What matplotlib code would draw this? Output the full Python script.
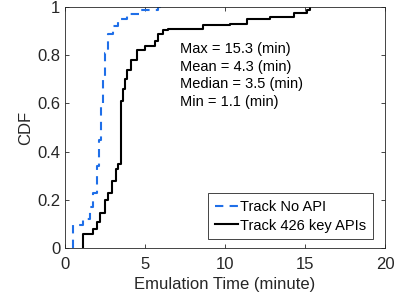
import matplotlib
matplotlib.use('Agg')
import matplotlib.pyplot as plt
from matplotlib.ticker import FuncFormatter

plt.rcParams['font.family'] = ['Liberation Sans', 'DejaVu Sans']

# CDF step points (time in minutes, cumulative fraction)
noapi_t = [0.52, 0.52, 1.15, 1.56, 1.77, 1.98, 2.15, 2.23, 2.35, 2.5, 2.7, 3.0, 3.33, 3.85, 4.7, 5.8, 6.0]
noapi_p = [0.0, 0.095, 0.12, 0.17, 0.23, 0.34, 0.45, 0.59, 0.71, 0.81, 0.89, 0.92, 0.95, 0.97, 0.99, 1.0, 1.0]

keyapi_t = [1.1, 1.1, 1.77, 1.98, 2.19, 2.5, 2.7, 2.92, 3.19, 3.33, 3.48, 3.5, 3.6, 3.75, 3.9, 4.1,
            4.5, 5.0, 5.6, 5.83, 6.1, 6.45, 8.6, 10.3, 11.35, 12.8, 14.3, 15.1, 15.3]
keyapi_p = [0.0, 0.06, 0.08, 0.11, 0.145, 0.2, 0.23, 0.28, 0.33, 0.35, 0.61, 0.61, 0.66, 0.70, 0.74, 0.78,
            0.82, 0.84, 0.86, 0.89, 0.905, 0.91, 0.925, 0.93, 0.95, 0.96, 0.975, 0.99, 1.0]

stats = ['Max = 15.3 (min)', 'Mean = 4.3 (min)', 'Median = 3.5 (min)', 'Min = 1.1 (min)']

axcol = '#262626'

fig = plt.figure(figsize=(3.99, 2.96), dpi=100)
ax = fig.add_axes([0.163, 0.162, 0.802, 0.814])

ax.plot(noapi_t, noapi_p, linestyle=(0, (4, 3)), color='#1f6fe8', lw=1.5,
        drawstyle='steps-post', label='Track No API')
ax.plot(keyapi_t, keyapi_p, '-', color='black', lw=1.5, drawstyle='steps-post',
        label='Track 426 key APIs')

ax.set_xlim(0, 20)
ax.set_ylim(0, 1)
ax.set_xticks([0, 5, 10, 15, 20])
ax.set_yticks([0, 0.2, 0.4, 0.6, 0.8, 1])
ax.yaxis.set_major_formatter(FuncFormatter(lambda v, p: '%g' % v))
ax.tick_params(direction='in', top=True, right=True, length=3, labelsize=12, width=0.6,
               colors=axcol)
ax.tick_params(axis='x', pad=6.5)
ax.tick_params(axis='y', pad=3.5)
for s in ax.spines.values():
    s.set_linewidth(0.6)
    s.set_color(axcol)

ax.set_xlabel('Emulation Time (minute)', fontsize=12, labelpad=3.5, color=axcol)
ax.set_ylabel('CDF', fontsize=12, labelpad=2.5, color=axcol)

ax.text(7.2, 0.855, '\n'.join(stats), fontsize=10.5, va='top', ha='left', linespacing=1.32)

leg = ax.legend(loc='lower right', bbox_to_anchor=(0.9616, 0.037), borderaxespad=0,
                fontsize=10.5, handlelength=1.6, handletextpad=0.15,
                borderpad=0.45, labelspacing=0.32, fancybox=False, framealpha=1,
                edgecolor=axcol)
leg.get_frame().set_linewidth(0.6)

fig.savefig('out.png', dpi=100)
